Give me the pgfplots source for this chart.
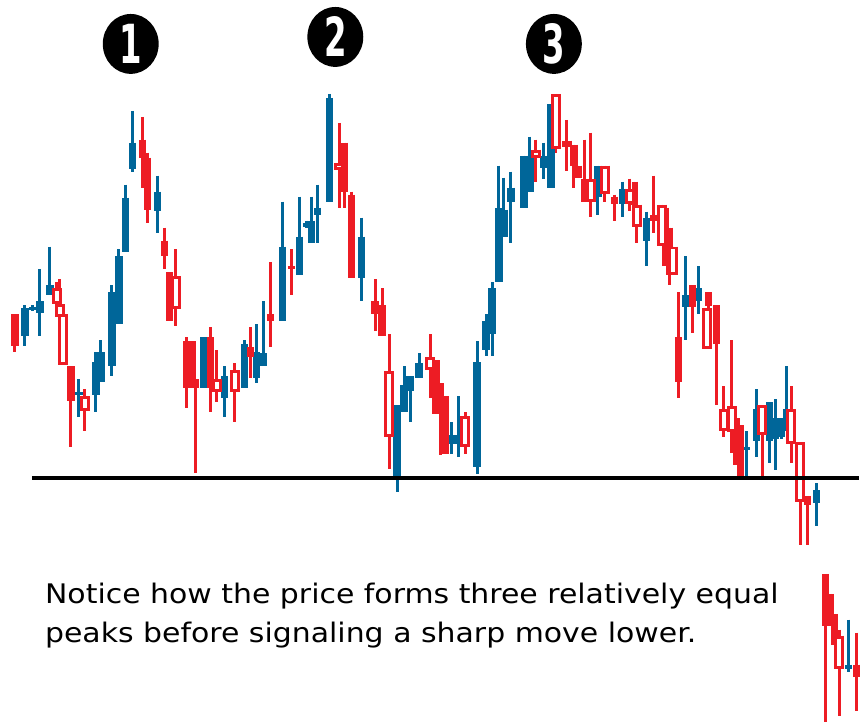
\documentclass[border=0pt]{standalone}
\usepackage{pgfplots}
\pgfplotsset{compat=1.18}
\usepackage{pgfplotstable}
\usepackage{graphicx}
\usepackage{fontspec}
\setmainfont{DejaVu Sans}
\usetikzlibrary{shapes.geometric}
\definecolor{cblue}{RGB}{0,102,153}
\definecolor{cred}{RGB}{237,28,36}

% columns: x, high (top), low (bottom), body top, body bottom  (screen units, y grows downward)
\pgfplotstableread{
x h l t b
25 306 347 309 337
33 306 312 308 311
40 270 337 302 314
50 247 296 286 296
79 380 418 393 396
96 353 413 363 396
101 341 383 353 383
112 286 377 293 367
119 250 325 257 325
126 185 253 198 253
133 111 172 143 169
158 176 233 192 211
204 338 389 338 389
225 367 418 377 399
245 341 389 345 389
257 325 384 353 379
264 302 367 354 367
283 202 322 247 322
300 197 276 237 276
307 221 228 223 227
312 197 243 221 243
318 185 243 208 215
330 94 202 98 202
362 218 302 237 279
398 406 493 406 478
405 367 413 386 413
411 377 423 377 392
420 354 379 364 379
452 423 455 436 445
459 397 458 436 445
478 342 475 363 468
487 315 357 322 351
493 283 357 289 335
500 166 283 208 283
505 178 237 210 237
512 172 243 188 202
525 156 208 156 208
531 137 192 156 192
545 143 179 156 168
552 104 188 104 188
599 166 215 166 197
624 182 217 189 204
648 212 267 218 241
687 257 341 296 308
700 267 315 289 302
748 432 478 448 451
758 390 458 410 442
771 403 464 403 442
777 400 471 419 440
783 419 440 419 438
788 367 432 410 432
818 484 527 491 504
850 621 673 666 670
}\blue

\pgfplotstableread{
x h l t b
15 315 353 315 347
71 367 448 367 402
143 117 188 140 158
148 153 223 158 210
165 228 270 241 257
170 273 322 273 322
187 338 409 342 389
193 342 389 342 389
196 380 474 380 389
211 328 413 338 389
251 328 379 348 358
271 263 348 315 322
292 250 296 267 270
345 143 208 143 192
352 192 279 195 279
376 280 332 302 315
383 289 337 306 337
437 361 415 361 415
441 384 456 384 415
446 397 455 397 455
575 145 188 145 166
579 166 178 166 178
586 140 202 179 202
616 195 221 197 204
635 182 205 189 205
655 176 233 215 221
667 208 267 208 267
671 228 286 228 276
680 293 399 338 383
694 286 334 286 308
710 293 310 293 307
718 306 406 306 345
738 419 466 419 466
742 426 478 426 477
809 497 546 497 506
827 575 723 575 627
832 595 627 595 627
836 615 646 615 646
858 634 712 666 678
}\redf

\pgfplotstableread{
x h l t b
57 283 305 289 305
60 280 318 305 318
63 315 366 315 366
85 390 432 397 412
176 250 327 277 310
217 351 403 380 393
235 364 423 371 393
340 123 208 163 170
390 335 470 372 438
431 335 399 358 371
466 413 455 417 448
537 140 182 150 158
557 94 153 94 149
568 120 171 141 147
592 133 217 179 202
606 166 202 166 194
631 179 211 189 204
638 182 243 205 227
663 205 246 205 246
674 247 276 247 276
708 309 350 309 350
725 387 438 410 432
733 341 454 407 433
764 406 477 406 436
793 387 464 410 445
802 443 546 443 503
841 631 717 637 670
}\redh

\pgfplotsset{
  bar/.style 2 args={draw=none, mark=none, mark size=0pt, forget plot,
    error bars/.cd, y dir=plus, y explicit, error mark=none,
    error bar style={line width=#2, draw=#1, line cap=butt}},
}

\begin{document}
\begin{tikzpicture}
\begin{axis}[scale only axis, width=861pt, height=724pt,
  xmin=0, xmax=861, ymin=0, ymax=724, y dir=reverse,
  hide axis, clip=false]
\path (axis cs:0,0) rectangle (axis cs:861,724);
% wicks
\addplot[bar={cblue}{3pt}] table[x=x, y=h, y error plus expr=\thisrow{l}-\thisrow{h}] {\blue};
\addplot[bar={cred}{3pt}] table[x=x, y=h, y error plus expr=\thisrow{l}-\thisrow{h}] {\redf};
\addplot[bar={cred}{3pt}] table[x=x, y=h, y error plus expr=\thisrow{l}-\thisrow{h}] {\redh};
% bodies
\addplot[bar={cblue}{7.5pt}] table[x=x, y=t, y error plus expr=\thisrow{b}-\thisrow{t}] {\blue};
\addplot[bar={cred}{7.5pt}] table[x=x, y=t, y error plus expr=\thisrow{b}-\thisrow{t}] {\redf};
\addplot[bar={cred}{10pt}] table[x=x, y=t, y error plus expr=\thisrow{b}-\thisrow{t}] {\redh};
\addplot[bar={white}{4pt}] table[x=x, y expr=\thisrow{t}+3, y error plus expr={max(\thisrow{b}-\thisrow{t}-6,0)}] {\redh};
% support line
\addplot[black, line width=3.5pt, forget plot] coordinates {(32,479) (861,479)};
% peak markers
\node[ellipse, fill=black, minimum width=56pt, minimum height=60pt, inner sep=0pt] at (axis cs:131,44) {};
\node[text=white, inner sep=0pt, font=\fontsize{54}{54}\selectfont\bfseries] at (axis cs:131,44) {\scalebox{0.6}[1]{1}};
\node[ellipse, fill=black, minimum width=56pt, minimum height=60pt, inner sep=0pt] at (axis cs:336,37) {};
\node[text=white, inner sep=0pt, font=\fontsize{54}{54}\selectfont\bfseries] at (axis cs:336,37) {\scalebox{0.6}[1]{2}};
\node[ellipse, fill=black, minimum width=56pt, minimum height=60pt, inner sep=0pt] at (axis cs:555,44) {};
\node[text=white, inner sep=0pt, font=\fontsize{54}{54}\selectfont\bfseries] at (axis cs:555,44) {\scalebox{0.6}[1]{3}};
\node[anchor=base west, inner sep=0pt, font=\fontsize{27}{27}\selectfont] at (axis cs:45,605) {\scalebox{1.11}[1]{Notice how the price forms three relatively equal}};
\node[anchor=base west, inner sep=0pt, font=\fontsize{27}{27}\selectfont] at (axis cs:45,644) {\scalebox{1.11}[1]{peaks before signaling a sharp move lower.}};
\end{axis}
\end{tikzpicture}
\end{document}
